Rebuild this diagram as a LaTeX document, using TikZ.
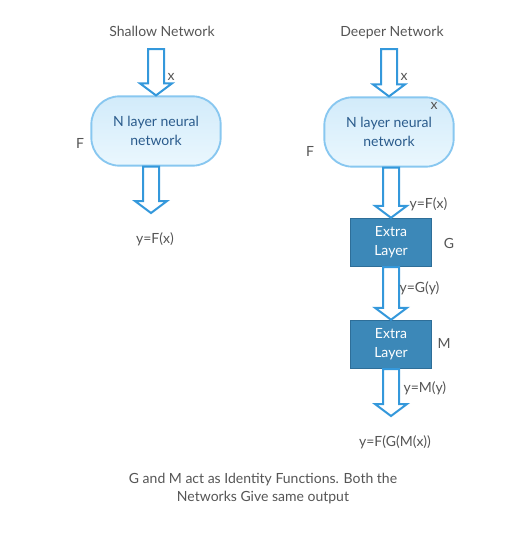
\documentclass[tikz,border=0pt]{standalone}
\usepackage{fontspec}
\setmainfont{Lato}
\usepackage{tikz}
\usetikzlibrary{positioning,calc}
\definecolor{arrowblue}{HTML}{3498DB}
\definecolor{nnedge}{HTML}{88C7F0}
\definecolor{nntop}{HTML}{D2EBFA}
\definecolor{nnbot}{HTML}{EAF7FE}
\definecolor{nntext}{HTML}{2A5B8C}
\definecolor{layerfill}{HTML}{3C88B8}
\definecolor{layeredge}{HTML}{2E6E98}
\definecolor{labgray}{HTML}{555555}
% hollow block arrow: #1 start (top), #2 tip
\newcommand{\fatarrow}[2]{%
  \draw[fatarrow] ($(#2 |- #1)+(-8,0)$) -- ($(#2)+(-8,-12)$) -- ($(#2)+(-16,-12)$)
    -- (#2) -- ($(#2)+(16,-12)$) -- ($(#2)+(8,-12)$) -- ($(#2 |- #1)+(8,0)$) -- cycle;}

\begin{document}
\begin{tikzpicture}[x=0.75pt,y=-0.75pt,font=\fontsize{10.5}{14}\selectfont,node distance=5mm]
\tikzstyle{nnet}=[draw=nnedge,line width=1.4pt,rounded corners=21pt,minimum width=97pt,
  minimum height=52pt,align=center,top color=nntop,bottom color=nnbot,text=nntext]
\tikzstyle{extra}=[draw=layeredge,line width=0.6pt,fill=layerfill,minimum width=61pt,
  minimum height=36.5pt,align=center,text=white]
\tikzstyle{lab}=[text=labgray,inner sep=1pt]
\tikzstyle{fatarrow}=[draw=arrowblue,line width=1.5pt,fill=white,line join=miter]
\useasboundingbox (0,0) rectangle (513,539);

% shallow network
\node[lab] (tshallow) at (162,31) {Shallow Network};
\node[nnet] (nn1) at (156,131) {N layer neural\\network};
\coordinate (in1) at (156,49);
\coordinate (out1) at (151,213);
\fatarrow{in1}{nn1.north}
\fatarrow{nn1.south}{out1}
\node[lab] (x1) at (171,77) {x};
\node[lab] (f1) at (80,143) {F};
\node[lab] (y1) at (155,239) {y=F(x)};

% deeper network
\node[lab] (tdeep) at (392,33) {Deeper Network};
\node[nnet] (nn2) at (389,132) {N layer neural\\network};
\coordinate (in2) at (389,49);
\node[extra] (g) at (391,242.5) {Extra\\Layer};
\node[extra] (m) at (391,344.5) {Extra\\Layer};
\coordinate (out2) at (391,416);
\fatarrow{in2}{nn2.north}
\fatarrow{nn2.south}{g.north}
\fatarrow{g.south}{m.north}
\fatarrow{m.south}{out2}
\node[lab] (x2) at (404,77) {x};
\node[lab] (x3) at (434,106) {x};
\node[lab] (f2) at (310,151) {F};
\node[lab,anchor=west] (yf) at (408,204) {y=F(x)};
\node[lab] (lg) at (449,243) {G};
\node[lab] (lm) at (444,343) {M};
\node[lab,anchor=west] (yg) at (398,288) {y=G(y)};
\node[lab,anchor=west] (ym) at (402,388) {y=M(y)};
\node[lab] (yall) at (395,442) {y=F(G(M(x))};

\node[lab,align=center,font=\fontsize{10.5}{13.5}\selectfont] (note) at (263,489)
  {G and M act as Identity Functions. Both the\\Networks Give same output};
\end{tikzpicture}
\end{document}
